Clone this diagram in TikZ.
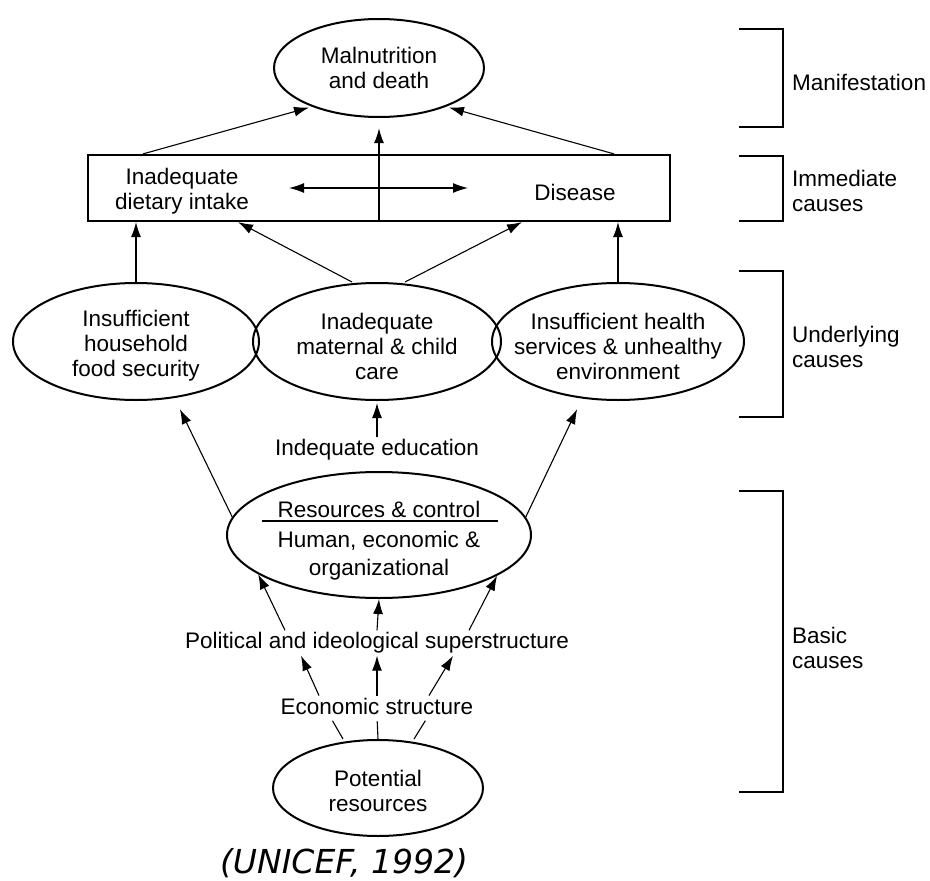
\documentclass[tikz,border=0pt]{standalone}
\usepackage{fontspec}
\setmainfont{Liberation Sans}
\newfontfamily\citefont{DejaVu Sans}
\usetikzlibrary{arrows.meta,shapes.geometric}
\begin{document}
\begin{tikzpicture}[x=1pt,y=-1pt,
  txt/.style={font=\fontsize{22.5}{25}\selectfont, align=center, inner sep=2pt},
  oval/.style={ellipse, draw, line width=2pt, inner sep=0pt},
  arr/.style={-{Latex[length=15pt,width=10pt]}, line width=1.1pt},
  dblarr/.style={{Latex[length=15pt,width=10pt]}-{Latex[length=15pt,width=10pt]}, line width=1.2pt},
  plain/.style={line width=1.1pt},
  brk/.style={line width=1.5pt},
  side/.style={txt, anchor=west, align=left}]
\useasboundingbox (0,0) rectangle (930,881);

% Manifestation
\node[oval, minimum width=210pt, minimum height=98pt] (mal) at (379,68) {};
\node[txt] (malt) at (mal) {Malnutrition\\and death};

% Immediate causes box
\node[draw, line width=2.2pt, minimum width=582pt, minimum height=66pt, inner sep=0pt] (rect) at (379,188) {};
\node[txt] (diet) at (182,191) {Inadequate\\dietary intake};
\node[txt] (dis) at (575,192) {Disease};
\coordinate (da) at (289,188);
\coordinate (db) at (468,188);
\draw[dblarr] (da) -- (db);

\draw[arr, line width=1.6pt, shorten >=10pt] (rect.south) -- (mal.south);
\draw[arr, shorten >=3pt] ([xshift=-236pt]rect.north) -- (mal.210);
\draw[arr, shorten >=3pt] ([xshift=235pt]rect.north) -- (mal.330);

% Underlying causes
\node[oval, minimum width=246pt, minimum height=117pt] (u1) at (136,341.5) {};
\node[oval, minimum width=248pt, minimum height=117pt] (u2) at (377,341.5) {};
\node[oval, minimum width=252pt, minimum height=117pt] (u3) at (618,341.5) {};
\node[txt] (u1t) at (136,346) {Insufficient\\household\\food security};
\node[txt] (u2t) at (377,346) {Inadequate\\maternal \& child\\care};
\node[txt] (u3t) at (618,346) {Insufficient health\\services \& unhealthy\\environment};

\draw[arr] (u1.north) -- (u1.north |- rect.south);
\draw[arr] ([xshift=-25pt]u2.north) -- ([xshift=-141pt]rect.south);
\draw[arr] ([xshift=28pt]u2.north) -- ([xshift=143pt]rect.south);
\draw[arr] (u3.north) -- (u3.north |- rect.south);

% Education
\node[txt] (edu) at (377,450) {Indequate education};
\draw[arr, shorten >=2pt] (edu) -- (u2.south);

% Resources & control
\node[oval, minimum width=304pt, minimum height=126pt] (res) at (379,535) {};
\node[txt] (rest) at (379,509) {Resources \& control};
\draw[plain] ([shift={(-117,-14)}]res.center) -- ([shift={(119,-14)}]res.center);
\node[txt, font=\fontsize{22.5}{28}\selectfont] (resb) at (379,556) {Human, economic \&\\organizational};

\draw[arr, shorten >=9pt] (res.173) -- ([xshift=40pt]u1.south);
\draw[arr, shorten >=9pt] (res.7) -- ([xshift=-37pt]u3.south);

% Political
\node[txt] (pol) at (377,643) {Political and ideological superstructure};
\draw[arr] ([xshift=-92pt]pol.north) -- (res.198);
\draw[arr] (pol.north) -- (res.south);
\draw[arr] ([xshift=92pt]pol.north) -- (res.341);

% Economic
\node[txt] (eco) at (377,706) {Economic structure};
\draw[arr] ([xshift=-58pt]eco.north) -- ([xshift=-76pt]pol.south);
\draw[arr] (eco.north) -- (pol.south);
\draw[arr] ([xshift=52pt]eco.north) -- ([xshift=76pt]pol.south);

% Potential resources
\node[oval, minimum width=210pt, minimum height=96pt] (pot) at (378,788) {};
\node[txt] (pott) at (378,790.5) {Potential\\resources};
\draw[plain, shorten >=5pt] ([xshift=-35pt]pot.north) -- ([xshift=-47pt]eco.south);
\draw[plain, shorten >=5pt] (pot.north) -- (eco.south);
\draw[plain, shorten >=5pt] ([xshift=36pt]pot.north) -- ([xshift=51pt]eco.south);

% Brackets
\draw[brk] (739,29) -| (783,127) -- (739,127);
\draw[brk] (739,156) -| (783,221) -- (739,221);
\draw[brk] (739,271) -| (783,417) -- (739,417);
\draw[brk] (739,491) -| (783,792) -- (739,792);
\node[side] (lm) at (790,82) {Manifestation};
\node[side] (li) at (790,191) {Immediate\\causes};
\node[side] (lu) at (790,346.5) {Underlying\\causes};
\node[side] (lb) at (790,647.5) {Basic\\causes};

% Citation
\node[font=\citefont\itshape\fontsize{33}{38}\selectfont, inner sep=0pt] (cite) at (344,863) {(UNICEF, 1992)};
\end{tikzpicture}
\end{document}
